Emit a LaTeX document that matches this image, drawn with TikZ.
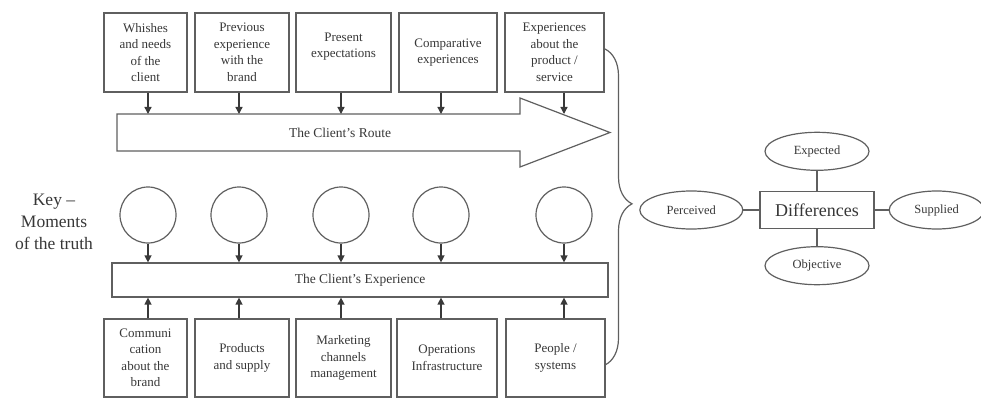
\documentclass[tikz,border=0pt]{standalone}
\usepackage{fontspec}
\setmainfont{Liberation Serif}
\usetikzlibrary{positioning, arrows.meta, shapes.geometric, decorations.pathreplacing}
\definecolor{ink}{RGB}{55,55,55}
\definecolor{edge}{RGB}{95,95,95}

\begin{document}
\begin{tikzpicture}[x=1pt, y=-1pt,
  factor/.style={draw=edge, line width=1.2pt, minimum height=79pt, inner sep=2pt,
                 align=center, text=ink, font=\fontsize{13}{16.5}\selectfont},
  moment/.style={circle, draw=edge, line width=1.2pt, minimum size=56pt},
  band/.style={draw=edge, line width=1.2pt, minimum height=34pt, inner sep=0pt,
               text=ink, font=\fontsize{13.5}{16}\selectfont},
  aspect/.style={ellipse, draw=edge, line width=1.2pt, minimum width=103pt,
                 minimum height=38pt, inner sep=0pt, text=ink,
                 font=\fontsize{12.5}{15}\selectfont},
  feed/.style={-{Triangle[length=7pt, width=7pt]}, line width=1.3pt, draw=edge!60!black},
  link/.style={line width=1.2pt, draw=edge},
]
  \useasboundingbox (0,0) rectangle (981,398);

  % Expectations feeding the route
  \node[factor, minimum width=83pt] (t1) at (145.5,52.5) {Whishes\\and needs\\of the\\client};
  \node[factor, minimum width=94pt] (t2) at (242,52.5) {Previous\\experience\\with the\\brand};
  \node[factor, minimum width=95pt] (t3) at (343.5,52.5) {Present\\expectations\\[-1.5pt]};
  \node[factor, minimum width=98pt] (t4) at (448,52.5) {Comparative\\experiences};
  \node[factor, minimum width=99pt] (t5) at (554.5,52.5) {Experiences\\about the\\product /\\service};

  % The route arrow
  \coordinate (routetop) at (117,114);
  \draw[link, line join=miter] (routetop) -- (520,114) -- (520,98) -- (610,132.5)
    -- (520,167) -- (520,151) -- (117,151) -- cycle;
  \node[text=ink, font=\fontsize{13.5}{16}\selectfont] (route) at (340,132.5) {The Client’s Route};

  % Moments of the truth
  \node[text=ink, align=center, font=\fontsize{17.5}{22}\selectfont] (key) at (54,222)
    {Key --\\Moments\\of the truth};
  \node[moment] (m1) at (148,215) {};
  \node[moment] (m2) at (239,215) {};
  \node[moment] (m3) at (341,215) {};
  \node[moment] (m4) at (441,215) {};
  \node[moment] (m5) at (564,215) {};

  \node[band, minimum width=496pt] (exp) at (360,280) {The Client’s Experience};

  % Internal factors
  \node[factor, minimum width=83pt, minimum height=78pt] (b1) at (145.5,358) {Communi\\cation\\about the\\brand};
  \node[factor, minimum width=94pt, minimum height=78pt] (b2) at (242,358) {Products\\and supply};
  \node[factor, minimum width=95pt, minimum height=78pt] (b3) at (343.5,358) {Marketing\\channels\\management};
  \node[factor, minimum width=100pt, minimum height=78pt] (b4) at (447,358) {Operations\\Infrastructure};
  \node[factor, minimum width=99pt, minimum height=78pt] (b5) at (555.5,358) {People /\\systems};

  \foreach \i in {1,...,5} {
    \draw[feed] (m\i |- t\i.south) -- (m\i |- routetop);
    \draw[feed] (m\i) -- (m\i |- exp.north);
    \draw[feed] (m\i |- b\i.north) -- (m\i |- exp.south);
  }

  % Brace gathering everything
  \draw[link, decorate, decoration={brace, amplitude=27pt, aspect=0.49}] (605,49) -- (605,365);

  % Differences
  \node[draw=edge, line width=1.2pt, minimum width=114pt, minimum height=37pt, inner sep=0pt,
        text=ink, font=\fontsize{18}{20}\selectfont] (diff) at (817,210) {Differences};
  \node[aspect, left=16pt of diff] (perc) {Perceived};
  \node[aspect, right=14pt of diff, minimum width=95pt] (supp) {Supplied};
  \node[aspect, above=20pt of diff, minimum width=104pt] (expd) {Expected};
  \node[aspect, below=17pt of diff, minimum width=104pt] (obj) {Objective};
  \foreach \e in {perc, supp, expd, obj} {
    \draw[link] (diff) -- (\e);
  }
\end{tikzpicture}
\end{document}
